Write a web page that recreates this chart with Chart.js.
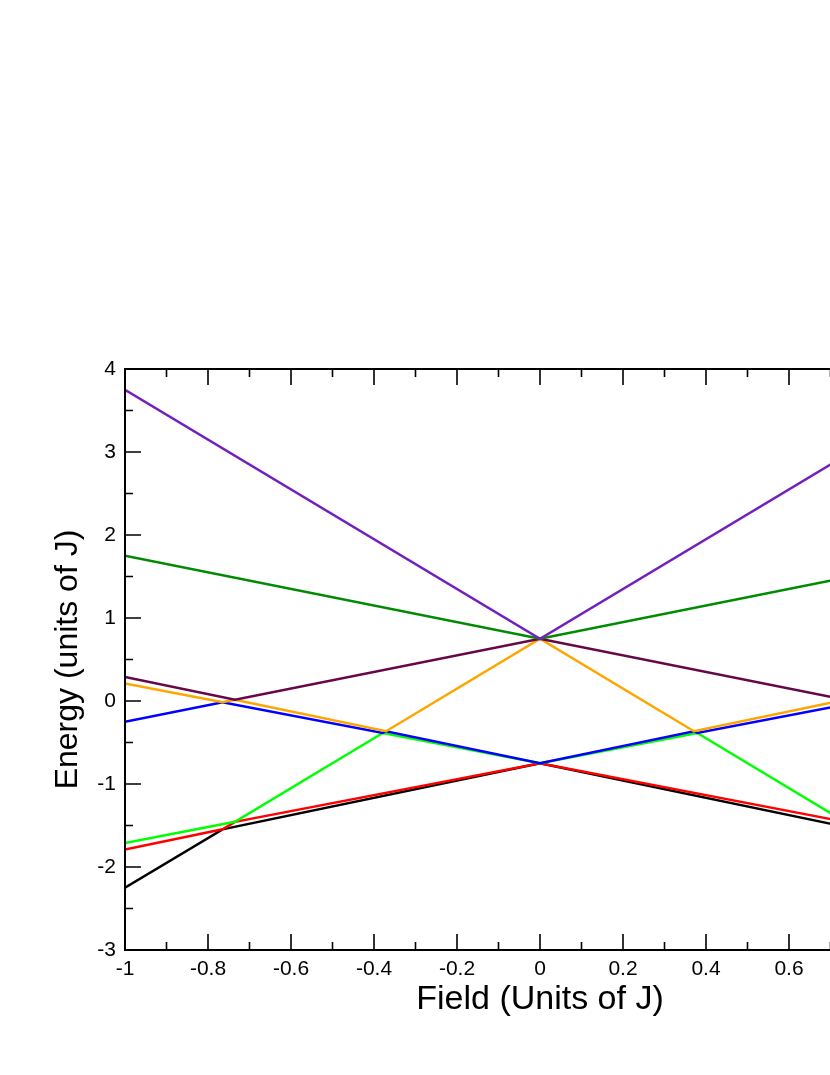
<!DOCTYPE html>
<html>
<head>
<meta charset="utf-8">
<title>Energy levels vs field</title>
<script src="https://cdn.jsdelivr.net/npm/chart.js@4.4.1/dist/chart.umd.min.js"></script>
<style>
    html, body { margin: 0; padding: 0; background: #fff; overflow: hidden; }
    #wrap { width: 1000px; height: 1075px; }
</style>
</head>
<body>
<div id="wrap"><canvas id="levelsChart" width="1000" height="1075"></canvas></div>
<script>
// Níveis de energia (pontos de quebra), campo de -1 a 1
const purpleX = [-1, 0, 1];
const purpleY = [3.75, 0.75, 3.75];

const darkGreenX = [-1, 0, 1];
const darkGreenY = [1.75, 0.75, 1.75];

const maroonX = [-1, -0.735, 0, 0.735, 1];
const maroonY = [0.29, 0.015, 0.75, 0.015, 0.29];

const orangeX = [-1, -0.765, -0.735, -0.371, 0, 0.371, 0.735, 0.765, 1];
const orangeY = [0.21, -0.015, 0.015, -0.364, 0.75, -0.364, 0.015, -0.015, 0.21];

const blueX = [-1, -0.765, -0.379, -0.371, 0, 0.371, 0.379, 0.765, 1];
const blueY = [-0.25, -0.015, -0.386, -0.364, -0.75, -0.364, -0.386, -0.015, -0.25];

const greenX = [-1, -0.735, -0.379, 0, 0.379, 0.735, 1];
const greenY = [-1.71, -1.456, -0.386, -0.75, -0.386, -1.456, -1.71];

const redX = [-1, -0.765, -0.735, 0, 0.735, 0.765, 1];
const redY = [-1.79, -1.546, -1.456, -0.75, -1.456, -1.546, -1.79];

const blackX = [-1, -0.765, 0, 0.765, 1];
const blackY = [-2.25, -1.546, -0.75, -1.546, -2.25];

// Marcas dos eixos
const xMajorTicks = [-1, -0.8, -0.6, -0.4, -0.2, 0, 0.2, 0.4, 0.6, 0.8, 1];
const xMinorTicks = [-0.9, -0.7, -0.5, -0.3, -0.1, 0.1, 0.3, 0.5, 0.7, 0.9];
const yMajorTicks = [-3, -2, -1, 0, 1, 2, 3, 4];
const yMinorTicks = [-2.5, -1.5, -0.5, 0.5, 1.5, 2.5, 3.5];

const FONT = "'Liberation Sans', Arial, Helvetica, sans-serif";

function toPoints(xs, ys) {
    return xs.map((x, i) => ({ x: x, y: ys[i] }));
}

function level(xs, ys, color) {
    return {
        data: toPoints(xs, ys),
        showLine: true,
        borderColor: color,
        backgroundColor: color,
        borderWidth: 2.5,
        pointRadius: 0,
        fill: false,
        tension: 0
    };
}

// Moldura e marcas internas (estilo xmgrace)
const framePlugin = {
    id: 'frame',
    afterDraw(chart) {
        const ctx = chart.ctx;
        const a = chart.chartArea;
        const xs = chart.scales.x;
        const ys = chart.scales.y;
        ctx.save();
        ctx.strokeStyle = '#000';
        ctx.lineWidth = 1.6;
        ctx.beginPath();
        xMajorTicks.forEach(v => {
            const px = xs.getPixelForValue(v);
            ctx.moveTo(px, a.bottom); ctx.lineTo(px, a.bottom - 16);
            ctx.moveTo(px, a.top); ctx.lineTo(px, a.top + 16);
        });
        xMinorTicks.forEach(v => {
            const px = xs.getPixelForValue(v);
            ctx.moveTo(px, a.bottom); ctx.lineTo(px, a.bottom - 8);
            ctx.moveTo(px, a.top); ctx.lineTo(px, a.top + 8);
        });
        yMajorTicks.forEach(v => {
            const py = ys.getPixelForValue(v);
            ctx.moveTo(a.left, py); ctx.lineTo(a.left + 16, py);
            ctx.moveTo(a.right, py); ctx.lineTo(a.right - 16, py);
        });
        yMinorTicks.forEach(v => {
            const py = ys.getPixelForValue(v);
            ctx.moveTo(a.left, py); ctx.lineTo(a.left + 8, py);
            ctx.moveTo(a.right, py); ctx.lineTo(a.right - 8, py);
        });
        ctx.stroke();
        ctx.lineWidth = 2;
        ctx.strokeRect(a.left, a.top, a.right - a.left, a.bottom - a.top);
        ctx.restore();
    }
};

const config = {
    type: 'scatter',
    data: {
        datasets: [
            level(purpleX, purpleY, 'rgb(114, 33, 188)'),
            level(darkGreenX, darkGreenY, 'rgb(0, 139, 0)'),
            level(maroonX, maroonY, 'rgb(103, 7, 72)'),
            level(orangeX, orangeY, 'rgb(255, 165, 0)'),
            level(blueX, blueY, 'rgb(0, 0, 255)'),
            level(greenX, greenY, 'rgb(0, 255, 0)'),
            level(redX, redY, 'rgb(255, 0, 0)'),
            level(blackX, blackY, 'rgb(0, 0, 0)')
        ]
    },
    options: {
        responsive: false,
        animation: false,
        layout: { padding: { top: 369, right: 45, bottom: 0, left: 0 } },
        plugins: {
            legend: { display: false },
            tooltip: { enabled: false }
        },
        scales: {
            x: {
                type: 'linear',
                min: -1,
                max: 1,
                afterFit(scale) { scale.height = 125; },
                afterBuildTicks(scale) { scale.ticks = xMajorTicks.map(v => ({ value: v })); },
                grid: { display: false, drawTicks: false },
                border: { display: false },
                ticks: {
                    padding: 7,
                    color: '#000',
                    font: { family: FONT, size: 21 },
                    maxRotation: 0,
                    callback: v => String(Number(v.toFixed(1)))
                },
                title: {
                    display: true,
                    text: 'Field (Units of J)',
                    color: '#000',
                    font: { family: FONT, size: 34 },
                    padding: { top: 0, bottom: 55 }
                }
            },
            y: {
                type: 'linear',
                min: -3,
                max: 4,
                afterFit(scale) { scale.width = 125; },
                afterBuildTicks(scale) { scale.ticks = yMajorTicks.map(v => ({ value: v })); },
                grid: { display: false, drawTicks: false },
                border: { display: false },
                ticks: {
                    padding: 9,
                    color: '#000',
                    font: { family: FONT, size: 21 },
                    callback: v => String(v)
                },
                title: {
                    display: true,
                    text: 'Energy (units of J)',
                    color: '#000',
                    font: { family: FONT, size: 32 },
                    padding: { top: 49, bottom: 0 }
                }
            }
        }
    },
    plugins: [framePlugin]
};

const levelsChart = new Chart(document.getElementById('levelsChart'), config);
</script>
</body>
</html>
